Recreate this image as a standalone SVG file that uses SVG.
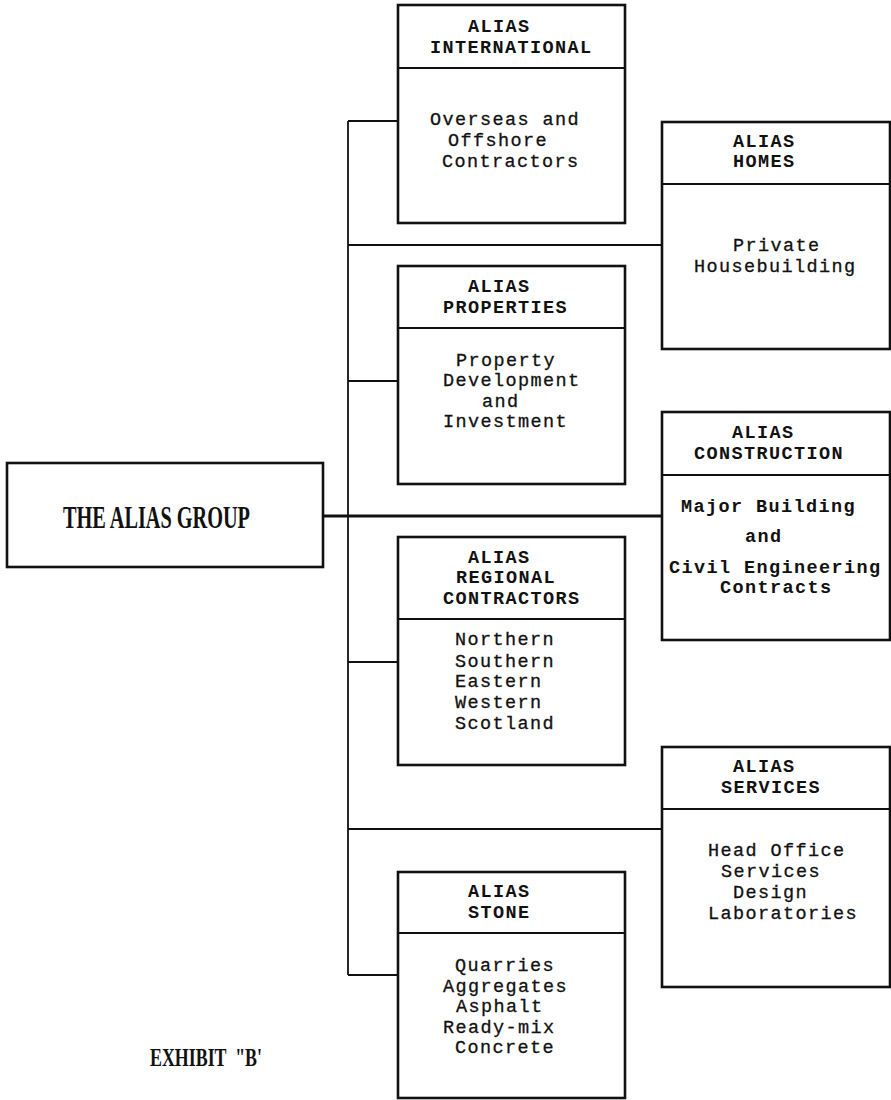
<svg xmlns="http://www.w3.org/2000/svg" width="891" height="1100" viewBox="0 0 891 1100">
  <style>
    .box { fill: #ffffff; stroke: #111111; stroke-width: 2.6; }
    .div { stroke: #111111; stroke-width: 2; fill: none; }
    .link { stroke: #111111; stroke-width: 1.8; fill: none; }
    .main { stroke: #111111; stroke-width: 3; fill: none; }
    .hd, .tx, .bx { font-family: "Liberation Mono", "Courier New", monospace; font-size: 18.5px; letter-spacing: 1.4px; fill: #111111; }
    .hd, .bx { font-weight: bold; }
    .tx { stroke: #111111; stroke-width: 0.3; }
    .title { font-family: "Liberation Serif", "Times New Roman", serif; font-weight: bold; fill: #111111; }
  </style>
  <rect width="891" height="1100" fill="#ffffff"/>

  <!-- connectors: trunk and branches -->
  <g id="connectors">
    <line class="link" x1="348" y1="121" x2="348" y2="975"/>
    <line class="link" x1="348" y1="121" x2="398" y2="121"/>
    <line class="link" x1="348" y1="245" x2="662" y2="245"/>
    <line class="link" x1="348" y1="381" x2="398" y2="381"/>
    <line class="main" x1="323" y1="516" x2="662" y2="516"/>
    <line class="link" x1="348" y1="662" x2="398" y2="662"/>
    <line class="link" x1="348" y1="829" x2="662" y2="829"/>
    <line class="link" x1="348" y1="975" x2="398" y2="975"/>
  </g>

  <g id="alias-group">
    <rect class="box" x="7" y="463" width="316" height="104"/>
    <text class="title" x="63" y="528" font-size="32" textLength="187" lengthAdjust="spacingAndGlyphs">THE ALIAS GROUP</text>
  </g>

  <g id="alias-international">
    <rect class="box" x="398" y="5" width="227" height="218"/>
    <line class="div" x1="398" y1="68" x2="625" y2="68"/>
    <text class="hd" x="468" y="32">ALIAS</text>
    <text class="hd" x="430" y="53">INTERNATIONAL</text>
    <text class="tx" x="430" y="125">Overseas and</text>
    <text class="tx" x="448" y="146">Offshore</text>
    <text class="tx" x="442" y="167">Contractors</text>
  </g>

  <g id="alias-homes">
    <rect class="box" x="662" y="122" width="228" height="227"/>
    <line class="div" x1="662" y1="184" x2="890" y2="184"/>
    <text class="hd" x="733" y="147">ALIAS</text>
    <text class="hd" x="733" y="167">HOMES</text>
    <text class="tx" x="733" y="251">Private</text>
    <text class="tx" x="694" y="272">Housebuilding</text>
  </g>

  <g id="alias-properties">
    <rect class="box" x="398" y="266" width="227" height="218"/>
    <line class="div" x1="398" y1="328" x2="625" y2="328"/>
    <text class="hd" x="468" y="292">ALIAS</text>
    <text class="hd" x="443" y="313">PROPERTIES</text>
    <text class="tx" x="456" y="366">Property</text>
    <text class="tx" x="443" y="386">Development</text>
    <text class="tx" x="482" y="407">and</text>
    <text class="tx" x="443" y="427">Investment</text>
  </g>

  <g id="alias-construction">
    <rect class="box" x="662" y="412" width="228" height="228" stroke-width="3"/>
    <line class="div" x1="662" y1="475" x2="890" y2="475"/>
    <text class="bx" x="732" y="438">ALIAS</text>
    <text class="bx" x="694" y="459">CONSTRUCTION</text>
    <text class="bx" x="681" y="512">Major Building</text>
    <text class="bx" x="745" y="542">and</text>
    <text class="bx" x="669" y="573">Civil Engineering</text>
    <text class="bx" x="720" y="593">Contracts</text>
  </g>

  <g id="alias-regional-contractors">
    <rect class="box" x="398" y="537" width="227" height="228"/>
    <line class="div" x1="398" y1="619" x2="625" y2="619"/>
    <text class="hd" x="468" y="563">ALIAS</text>
    <text class="hd" x="456" y="583">REGIONAL</text>
    <text class="hd" x="443" y="604">CONTRACTORS</text>
    <text class="tx" x="455" y="645">Northern</text>
    <text class="tx" x="455" y="667">Southern</text>
    <text class="tx" x="455" y="687">Eastern</text>
    <text class="tx" x="455" y="708">Western</text>
    <text class="tx" x="455" y="729">Scotland</text>
  </g>

  <g id="alias-services">
    <rect class="box" x="662" y="747" width="228" height="240"/>
    <line class="div" x1="662" y1="809" x2="890" y2="809"/>
    <text class="hd" x="733" y="772">ALIAS</text>
    <text class="hd" x="721" y="793">SERVICES</text>
    <text class="tx" x="708" y="856">Head Office</text>
    <text class="tx" x="721" y="877">Services</text>
    <text class="tx" x="733" y="898">Design</text>
    <text class="tx" x="708" y="919">Laboratories</text>
  </g>

  <g id="alias-stone">
    <rect class="box" x="398" y="872" width="227" height="226"/>
    <line class="div" x1="398" y1="933" x2="625" y2="933"/>
    <text class="hd" x="468" y="897">ALIAS</text>
    <text class="hd" x="468" y="918">STONE</text>
    <text class="tx" x="455" y="971">Quarries</text>
    <text class="tx" x="443" y="992">Aggregates</text>
    <text class="tx" x="456" y="1012">Asphalt</text>
    <text class="tx" x="443" y="1033">Ready-mix</text>
    <text class="tx" x="455" y="1053">Concrete</text>
  </g>

  <g id="exhibit-label">
    <text class="title" x="150" y="1066" font-size="25" xml:space="preserve" textLength="112" lengthAdjust="spacingAndGlyphs">EXHIBIT  "B'</text>
  </g>
</svg>
